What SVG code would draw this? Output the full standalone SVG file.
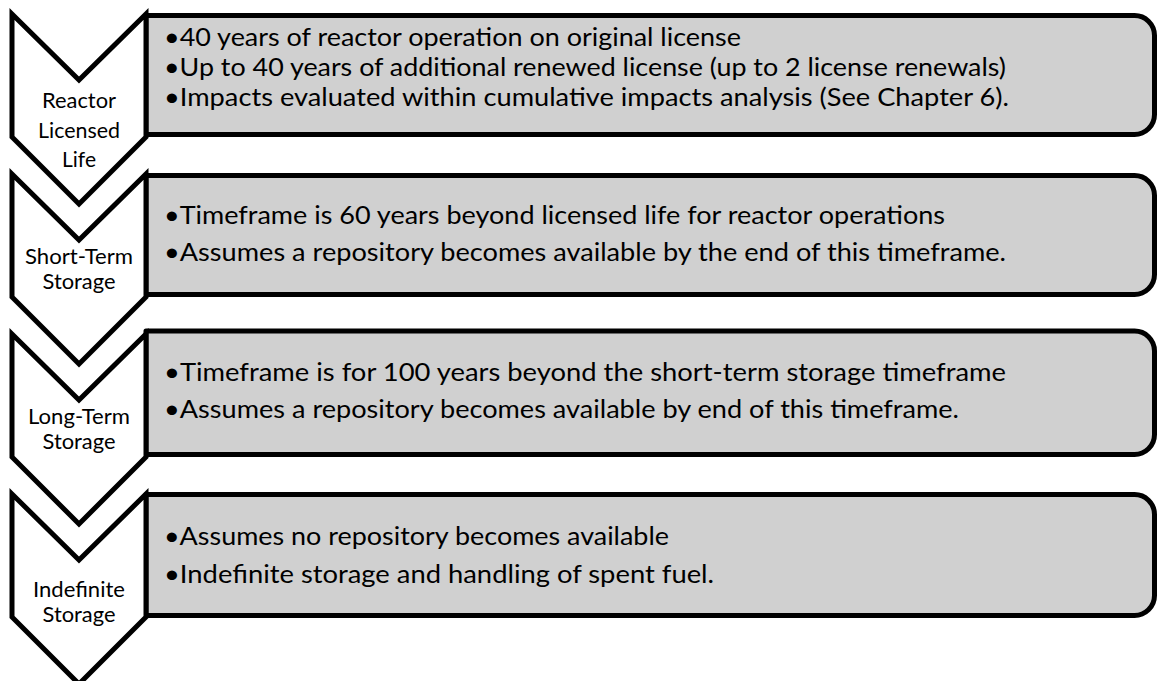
<svg xmlns="http://www.w3.org/2000/svg" width="1157" height="681" viewBox="0 0 1157 681">
<style>
.box{fill:#d0d0d0;stroke:#000;stroke-width:5;stroke-linejoin:round}
.chev{fill:#fff;stroke:#000;stroke-width:5;stroke-linejoin:miter;stroke-miterlimit:10}
.bt{font-family:Lato,"Open Sans",sans-serif;font-size:25px;fill:#000}
.lb{font-family:Lato,"Open Sans",sans-serif;font-size:20.5px;fill:#000;text-anchor:middle}
</style>
<rect width="1157" height="681" fill="#fff"/>
<g id="box1">
<path class="box" d="M146,15.5 H1134 A20,20 0 0 1 1154.5,35.5 V114.5 A20,20 0 0 1 1134,134.5 H146 Z"/>
<text class="bt" x="164" y="46" textLength="577" lengthAdjust="spacingAndGlyphs">•40 years of reactor operation on original license</text>
<text class="bt" x="164" y="76" textLength="842" lengthAdjust="spacingAndGlyphs">•Up to 40 years of additional renewed license (up to 2 license renewals)</text>
<text class="bt" x="164" y="106" textLength="845" lengthAdjust="spacingAndGlyphs">•Impacts evaluated within cumulative impacts analysis (See Chapter 6).</text>
</g>
<g id="box2">
<path class="box" d="M146,175.5 H1134 A20,20 0 0 1 1154.5,195.5 V274.5 A20,20 0 0 1 1134,294.5 H146 Z"/>
<text class="bt" x="164" y="224" textLength="781" lengthAdjust="spacingAndGlyphs">•Timeframe is 60 years beyond licensed life for reactor operations</text>
<text class="bt" x="164" y="261" textLength="842" lengthAdjust="spacingAndGlyphs">•Assumes a repository becomes available by the end of this timeframe.</text>
</g>
<g id="box3">
<path class="box" d="M146,331 H1134 A20,20 0 0 1 1154.5,351 V434.5 A20,20 0 0 1 1134,454.5 H146 Z"/>
<text class="bt" x="164" y="381" textLength="842" lengthAdjust="spacingAndGlyphs">•Timeframe is for 100 years beyond the short-term storage timeframe</text>
<text class="bt" x="164" y="418" textLength="795" lengthAdjust="spacingAndGlyphs">•Assumes a repository becomes available by end of this timeframe.</text>
</g>
<g id="box4">
<path class="box" d="M146,494.5 H1134 A20,20 0 0 1 1154.5,514.5 V595.5 A20,20 0 0 1 1134,615.5 H146 Z"/>
<text class="bt" x="164" y="545" textLength="505" lengthAdjust="spacingAndGlyphs">•Assumes no repository becomes available</text>
<text class="bt" x="164" y="583" textLength="550" lengthAdjust="spacingAndGlyphs">•Indefinite storage and handling of spent fuel.</text>
</g>
<g id="chevron1">
<path class="chev" d="M12,14 L79,80 L146,14 L146,137 L79,204 L12,137 Z"/>
<text class="lb" x="79" y="108" textLength="74" lengthAdjust="spacingAndGlyphs">Reactor</text>
<text class="lb" x="79" y="138" textLength="82" lengthAdjust="spacingAndGlyphs">Licensed</text>
<text class="lb" x="79" y="167" textLength="34" lengthAdjust="spacingAndGlyphs">Life</text>
</g>
<g id="chevron2">
<path class="chev" d="M12,174 L79,240 L146,174 L146,297 L79,364 L12,297 Z"/>
<text class="lb" x="79" y="264" textLength="108" lengthAdjust="spacingAndGlyphs">Short-Term</text>
<text class="lb" x="79" y="289" textLength="73" lengthAdjust="spacingAndGlyphs">Storage</text>
</g>
<g id="chevron3">
<path class="chev" d="M12,334 L79,400 L146,334 L146,457 L79,524 L12,457 Z"/>
<text class="lb" x="79" y="424" textLength="102" lengthAdjust="spacingAndGlyphs">Long-Term</text>
<text class="lb" x="79" y="449" textLength="73" lengthAdjust="spacingAndGlyphs">Storage</text>
</g>
<g id="chevron4">
<path class="chev" d="M12,494 L79,560 L146,494 L146,617 L79,684 L12,617 Z"/>
<text class="lb" x="79" y="597" textLength="92" lengthAdjust="spacingAndGlyphs">Indefinite</text>
<text class="lb" x="79" y="622" textLength="73" lengthAdjust="spacingAndGlyphs">Storage</text>
</g>
<g id="connectors"></g>
</svg>
